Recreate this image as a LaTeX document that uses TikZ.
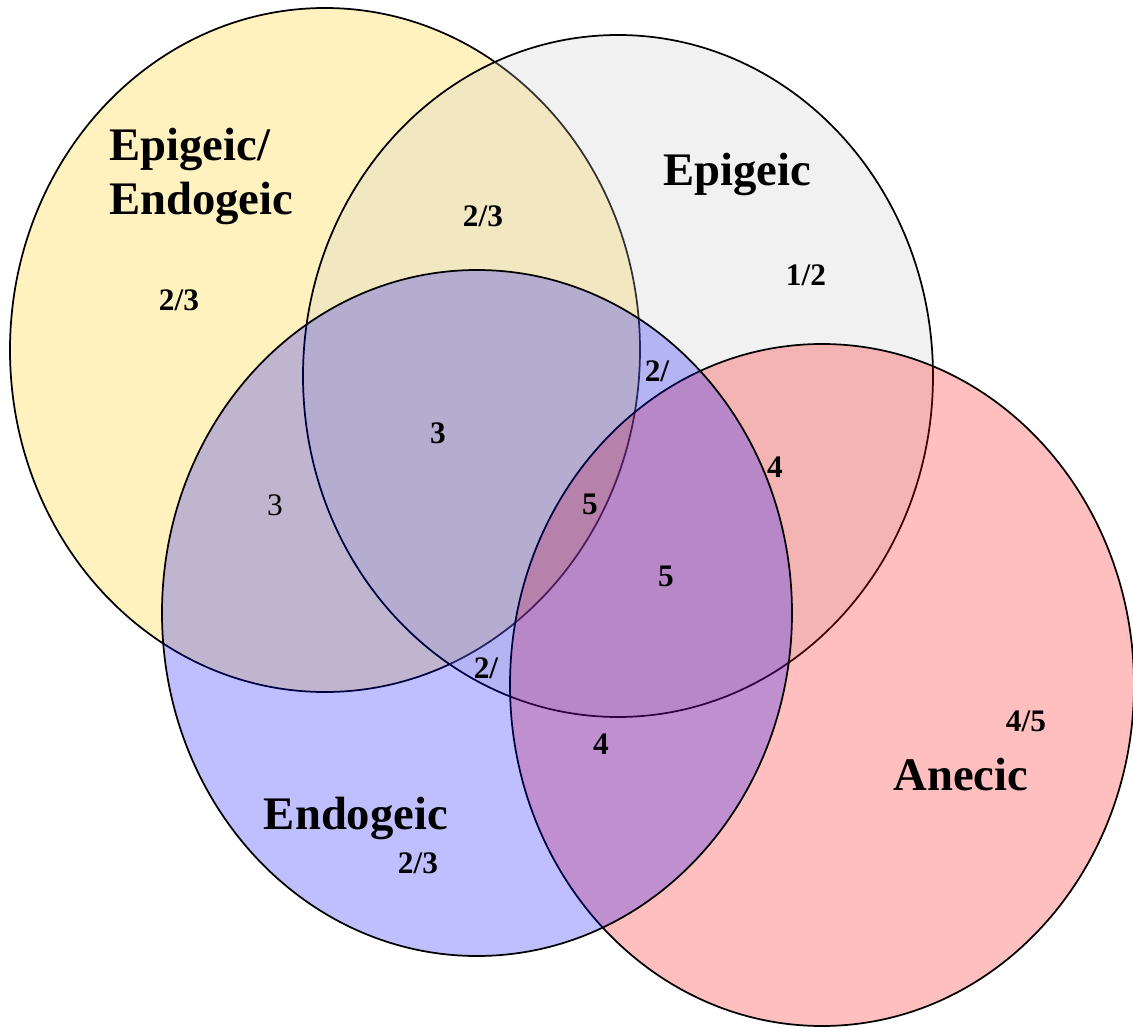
\documentclass[tikz,border=0pt]{standalone}
\usepackage{fontspec}
\setmainfont{Liberation Serif}
\definecolor{cEpiEndo}{RGB}{255,204,0}
\definecolor{cEpi}{RGB}{200,200,200}
\definecolor{cEndo}{RGB}{0,0,255}
\definecolor{cAnec}{RGB}{255,0,0}
\begin{document}
\begin{tikzpicture}[x=0.75pt,y=-0.75pt,
    set/.style={draw=black, line width=1.3pt, fill opacity=0.25},
    lbl/.style={font=\fontsize{35}{40.5}\selectfont\bfseries, inner sep=0pt, anchor=base},
    num/.style={font=\fontsize{23.5}{27}\selectfont\bfseries, inner sep=0pt, anchor=base}]
    \useasboundingbox (0,0) rectangle (1133,1028);

    % the four groups
    \filldraw[set, fill=cEpiEndo] (325,350) ellipse (315 and 342);
    \filldraw[set, fill=cEpi] (618,376) ellipse (315 and 341);
    \filldraw[set, fill=cAnec] (822,685) ellipse (312 and 341);
    \filldraw[set, fill=cEndo] (477,613) ellipse (315 and 343);

        \node[lbl, anchor=base west, align=left] (epiendo) at (109,214) {Epigeic/\\Endogeic};
        \node[lbl] (epi) at (737,185) {Epigeic};
        \node[lbl] (anec) at (961,790) {Anecic};
        \node[lbl] (endo) at (356,829) {Endogeic};

        % scores in each region
        \node[num] (n1) at (179,310) {2/3};
        \node[num] (n2) at (483,226) {2/3};
        \node[num] (n3) at (806,285) {1/2};
        \node[num] (n4) at (657,381) {2/};
        \node[num] (n5) at (438,443) {3};
        \node[num, font=\fontsize{23.5}{27}\selectfont] (n6) at (275,515) {3};
        \node[num] (n7) at (590,514) {5};
        \node[num] (n8) at (775,477) {4};
        \node[num] (n9) at (666,586) {5};
        \node[num] (n10) at (486,678) {2/};
        \node[num] (n11) at (601,754) {4};
        \node[num] (n12) at (1026,731) {4/5};
        \node[num] (n13) at (418,873) {2/3};

\end{tikzpicture}
\end{document}
